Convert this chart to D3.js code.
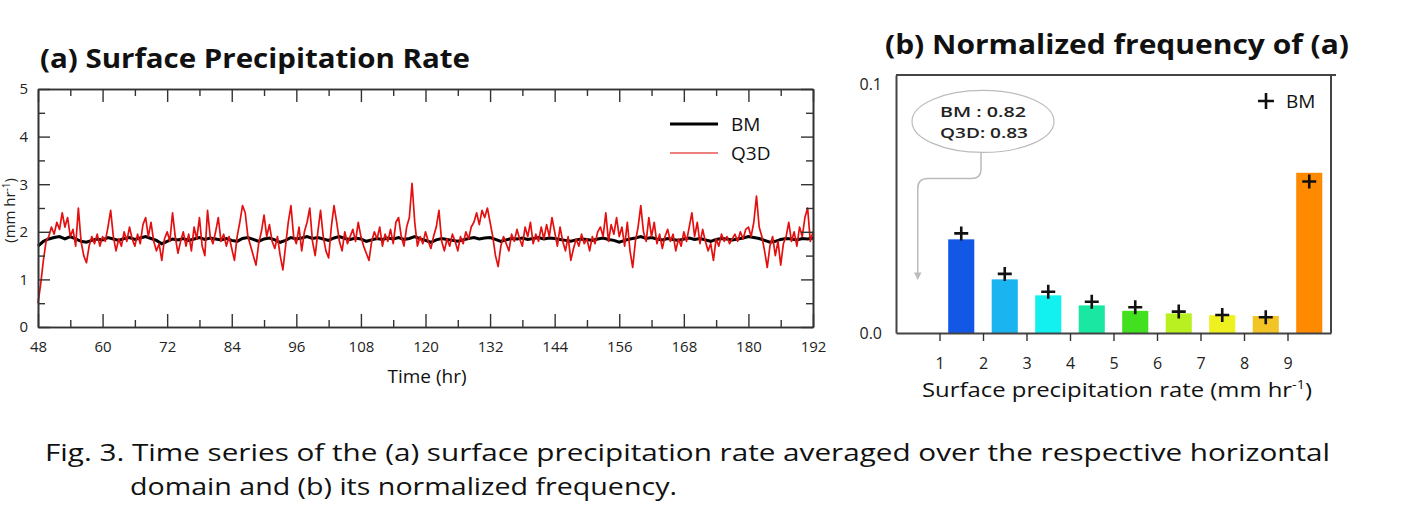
<!DOCTYPE html>
<html><head><meta charset="utf-8">
<script src="https://cdn.jsdelivr.net/npm/d3@7"></script>
<style>body{margin:0;background:#fff;} svg{display:block;}</style>
</head><body>
<svg id="c" width="1422" height="519"></svg>
<script>
// ---------------- DATA ----------------
const q3dStart = 48, q3dStep = 0.5;
const q3dValues = [
 0.5,0.9,1.4,1.8,1.9,2.1,1.95,2.2,2.05,2.4,2.1,2.3,1.9,2.05,1.7,2.5,1.8,1.5,1.35,1.7,1.9,1.75,1.95,1.7,
 1.9,1.8,2.1,2.45,1.9,1.6,1.85,1.7,2.0,1.8,2.1,1.85,1.7,1.95,1.75,2.15,2.3,1.9,2.2,1.8,1.6,1.75,1.4,1.85,
 2.0,1.8,2.4,1.9,1.55,1.8,2.0,1.7,1.95,1.6,2.1,1.85,2.3,1.7,1.5,2.45,1.9,1.75,2.0,2.3,1.8,1.95,1.7,1.9,
 1.65,1.4,1.9,2.2,2.55,2.4,1.9,1.7,1.5,1.3,1.75,2.0,2.35,1.9,2.15,1.8,1.65,1.9,1.5,1.2,1.7,2.2,2.55,1.9,
 1.75,2.1,1.6,2.0,2.2,2.5,1.8,1.5,2.0,2.45,1.9,1.6,1.45,2.1,2.55,2.2,1.8,1.6,2.0,1.75,1.9,2.05,1.8,2.2,
 1.9,1.7,1.55,1.4,1.8,2.0,1.85,2.1,1.7,1.95,1.8,2.05,1.75,2.2,2.3,1.9,1.7,2.1,2.3,3.02,2.2,1.7,1.9,1.75,
 2.0,1.8,1.65,1.9,2.1,2.45,1.8,1.6,1.85,1.7,1.95,1.8,1.6,1.9,1.75,2.0,1.85,2.1,2.2,2.4,2.15,2.45,2.3,2.5,
 2.2,1.9,1.5,1.27,1.7,1.9,1.75,1.6,1.95,1.8,2.05,1.85,1.7,2.1,1.9,2.2,1.75,1.95,1.8,2.1,1.85,2.15,1.9,2.3,
 2.0,1.7,2.1,1.8,1.6,1.9,1.4,1.65,1.85,1.7,1.95,1.75,1.85,1.6,1.9,1.75,2.0,2.1,1.9,2.4,1.8,2.15,1.95,2.3,
 1.9,2.1,1.7,2.2,1.6,1.25,1.8,2.1,2.55,2.0,1.8,2.3,1.9,2.2,1.75,1.95,1.65,1.9,2.05,1.8,1.95,1.6,1.85,1.7,
 2.0,1.8,2.1,2.4,1.9,2.2,1.75,2.05,1.8,1.6,1.75,1.4,1.85,1.7,1.95,1.8,1.9,1.75,1.85,1.95,1.8,2.0,1.85,2.05,
 2.1,1.9,2.2,2.75,2.1,1.9,1.6,1.25,1.7,1.9,1.5,1.8,1.3,1.75,1.9,2.2,1.8,2.0,1.7,2.1,1.9,2.3,2.5,1.8,2.0
];
const bmStart = 48, bmStep = 1;
const bmValues = [
 1.7,1.8,1.85,1.88,1.9,1.85,1.9,1.85,1.8,1.78,1.82,1.85,
 1.83,1.88,1.85,1.82,1.86,1.88,1.84,1.87,1.9,1.86,1.82,1.75,
 1.8,1.85,1.83,1.86,1.82,1.85,1.88,1.84,1.87,1.85,1.83,1.86,
 1.82,1.8,1.86,1.88,1.84,1.8,1.85,1.87,1.83,1.78,1.82,1.88,
 1.85,1.87,1.9,1.86,1.88,1.85,1.82,1.87,1.9,1.86,1.84,1.87,
 1.85,1.8,1.83,1.86,1.84,1.87,1.85,1.88,1.84,1.86,1.9,1.85,
 1.82,1.78,1.83,1.86,1.84,1.82,1.8,1.83,1.86,1.88,1.85,1.87,
 1.88,1.84,1.8,1.83,1.86,1.85,1.87,1.84,1.86,1.88,1.85,1.87,
 1.86,1.84,1.82,1.8,1.83,1.85,1.84,1.82,1.85,1.87,1.84,1.82,
 1.78,1.82,1.85,1.87,1.9,1.86,1.88,1.85,1.83,1.86,1.84,1.82,
 1.85,1.87,1.84,1.86,1.83,1.8,1.84,1.86,1.85,1.83,1.85,1.87,
 1.9,1.88,1.86,1.82,1.78,1.8,1.84,1.86,1.85,1.83,1.86,1.85,1.87
];
const xTicksA = [48,60,72,84,96,108,120,132,144,156,168,180,192];
const yTicksA = [0,1,2,3,4,5];

const binStarts = [1,2,3,4,5,6,7,8,9];
const q3dFreq = [0.0363,0.0208,0.0146,0.0107,0.0086,0.0076,0.0069,0.0066,0.0621];
const bmFreq  = [0.0386,0.0229,0.0160,0.0121,0.0100,0.0083,0.0070,0.0061,0.0587];
const binColors = ["#1257e6","#1ab4f0","#12f0f0","#1ae8a2","#42e01e","#b8f022","#eef020","#f2c426","#ff8a00"];
const xTicksB = [1,2,3,4,5,6,7,8,9];
const yTicksB = [0,0.1];
const firstBin = {x: 0.5, bm: 0.82, q3d: 0.83};

// ---------------- DRAW ----------------
const svg = d3.select("#c");
const FONT = "'Open Sans', 'DejaVu Sans', sans-serif";

// ===== Panel (a) =====
const xA = d3.scaleLinear().domain([48,192]).range([38,813]);
const yA = d3.scaleLinear().domain([0,5]).range([327,89]);
const gA = svg.append("g");

svg.append("text").attr("x",40).attr("y",68).attr("font-family",FONT).attr("font-weight","bold")
  .attr("font-size",26).attr("textLength",430).attr("lengthAdjust","spacingAndGlyphs")
  .attr("fill","#111").text("(a) Surface Precipitation Rate");

const q3dData = q3dValues.map((v,i)=>({t:q3dStart+i*q3dStep, v}));
const bmData = bmValues.map((v,i)=>({t:bmStart+i*bmStep, v}));
const lineA = d3.line().x(d=>xA(d.t)).y(d=>yA(d.v));

gA.append("path").datum(bmData).attr("d",lineA).attr("fill","none").attr("stroke","#000").attr("stroke-width",3);
gA.append("path").datum(q3dData).attr("d",lineA).attr("fill","none").attr("stroke","#e41010").attr("stroke-width",1.7).attr("stroke-linejoin","round");

function styleAxis(g){ g.selectAll(".domain").attr("stroke","#333").attr("stroke-width",1.6);
  g.selectAll(".tick line").attr("stroke","#333").attr("stroke-width",1.4);
  g.selectAll("text").attr("font-family",FONT).attr("fill","#222"); }

const xMinorA = d3.range(54,192,12);
const yMinorA = d3.range(0.5,5,1);
let g = gA.append("g").attr("transform",`translate(0,${yA(0)})`)
  .call(d3.axisBottom(xA).tickValues(xTicksA).tickSizeInner(-13).tickSizeOuter(0).tickPadding(14).tickFormat(d3.format("d")));
g.selectAll("text").attr("font-size",15); styleAxis(g);
g = gA.append("g").attr("transform",`translate(0,${yA(0)})`)
  .call(d3.axisBottom(xA).tickValues(xMinorA).tickSizeInner(-7).tickSizeOuter(0).tickFormat(""));
styleAxis(g);
g = gA.append("g").attr("transform",`translate(0,${yA(5)})`)
  .call(d3.axisTop(xA).tickValues(xTicksA).tickSizeInner(-13).tickSizeOuter(0).tickFormat(""));
styleAxis(g);
g = gA.append("g").attr("transform",`translate(0,${yA(5)})`)
  .call(d3.axisTop(xA).tickValues(xMinorA).tickSizeInner(-7).tickSizeOuter(0).tickFormat(""));
styleAxis(g);
g = gA.append("g").attr("transform",`translate(${xA(48)},0)`)
  .call(d3.axisLeft(yA).tickValues(yTicksA).tickSizeInner(-12).tickSizeOuter(0).tickPadding(10).tickFormat(d3.format("d")));
g.selectAll("text").attr("font-size",15); styleAxis(g);
g = gA.append("g").attr("transform",`translate(${xA(48)},0)`)
  .call(d3.axisLeft(yA).tickValues(yMinorA).tickSizeInner(-7).tickSizeOuter(0).tickFormat(""));
styleAxis(g);
g = gA.append("g").attr("transform",`translate(${xA(192)},0)`)
  .call(d3.axisRight(yA).tickValues(yTicksA).tickSizeInner(-12).tickSizeOuter(0).tickFormat(""));
styleAxis(g);
g = gA.append("g").attr("transform",`translate(${xA(192)},0)`)
  .call(d3.axisRight(yA).tickValues(yMinorA).tickSizeInner(-7).tickSizeOuter(0).tickFormat(""));
styleAxis(g);

gA.append("text").attr("x",427).attr("y",383).attr("text-anchor","middle")
  .attr("font-family",FONT).attr("font-size",19).attr("fill","#111").text("Time (hr)");
const yl = gA.append("text").attr("transform",`translate(15,${yA(2.45)}) rotate(-90)`).attr("text-anchor","middle")
  .attr("font-family",FONT).attr("font-size",15).attr("fill","#222");
yl.append("tspan").text("(mm hr");
yl.append("tspan").attr("dy",-5).attr("font-size",10).text("-1");
yl.append("tspan").attr("dy",5).text(")");

const legA = [{name:"BM",color:"#000",w:3,y:124},{name:"Q3D",color:"#e85555",w:1.5,y:153}];
legA.forEach(l=>{
  gA.append("line").attr("x1",670).attr("x2",718).attr("y1",l.y).attr("y2",l.y).attr("stroke",l.color).attr("stroke-width",l.w);
  gA.append("text").attr("x",731).attr("y",l.y+7).attr("font-family",FONT).attr("font-size",19).attr("fill","#111").text(l.name);
});

// ===== Panel (b) =====
const xB = d3.scaleLinear().domain([0,10]).range([896,1331]);
const yB = d3.scaleLinear().domain([0,0.1]).range([333,75]);
const gB = svg.append("g");

svg.append("text").attr("x",885).attr("y",54).attr("font-family",FONT).attr("font-weight","bold")
  .attr("font-size",26).attr("textLength",464).attr("lengthAdjust","spacingAndGlyphs")
  .attr("fill","#111").text("(b) Normalized frequency of (a)");

const barW = 0.6;
gB.selectAll("rect.bar").data(binStarts).enter().append("rect").attr("class","bar")
  .attr("x",(d)=>xB(d+0.5-barW/2)).attr("width",xB(barW)-xB(0))
  .attr("y",(d,i)=>yB(q3dFreq[i])).attr("height",(d,i)=>yB(0)-yB(q3dFreq[i]))
  .attr("fill",(d,i)=>binColors[i]);

function drawPlus(parent, cx, cy, s){
  parent.append("path").attr("d",`M${cx-s},${cy}H${cx+s}M${cx},${cy-s}V${cy+s}`)
    .attr("stroke","#111").attr("stroke-width",2.6).attr("fill","none");
}
binStarts.forEach((d,i)=>drawPlus(gB, xB(d+0.5), yB(bmFreq[i]), 7));

gB.append("g").attr("transform",`translate(0,${yB(0)})`)
  .call(d3.axisBottom(xB).tickValues(xTicksB).tickSizeInner(8).tickSizeOuter(0).tickPadding(17).tickFormat(d3.format("d")))
  .call(g=>{g.selectAll("text").attr("font-size",16); styleAxis(g); g.select(".domain").attr("stroke","#444").attr("stroke-width",2);});
gB.append("g").attr("transform",`translate(${xB(0)},0)`)
  .call(d3.axisLeft(yB).tickValues(yTicksB).tickSize(0).tickPadding(14).tickFormat(d3.format(".1f")))
  .call(g=>{g.selectAll("text").attr("font-size",16).attr("dy",(d)=>d>0?"0.9em":"0.32em"); styleAxis(g); g.select(".domain").attr("stroke","#444").attr("stroke-width",2);});
gB.append("line").attr("x1",xB(0)).attr("x2",xB(10)+5).attr("y1",yB(0.1)).attr("y2",yB(0.1)).attr("stroke","#444").attr("stroke-width",2);
gB.append("line").attr("x1",xB(10)).attr("x2",xB(10)).attr("y1",yB(0.1)).attr("y2",yB(0)).attr("stroke","#444").attr("stroke-width",2);

gB.append("text").attr("x",922).attr("y",397)
  .attr("font-family",FONT).attr("font-size",20).attr("fill","#111")
  .attr("textLength",390).attr("lengthAdjust","spacingAndGlyphs")
  .call(t=>{t.append("tspan").text("Surface precipitation rate (mm hr"); t.append("tspan").attr("dy",-8).attr("font-size",12).text("-1"); t.append("tspan").attr("dy",8).text(")");});

drawPlus(gB, 1266, 101, 8);
gB.append("text").attr("x",1286).attr("y",108).attr("font-family",FONT).attr("font-size",19).attr("fill","#111").text("BM");

const ex = xB(2.0), ey = yB(0.082);
gB.append("ellipse").attr("cx",ex).attr("cy",ey).attr("rx",71).attr("ry",31).attr("fill","none").attr("stroke","#bbb").attr("stroke-width",1.2);
gB.append("text").attr("x",ex-43).attr("y",ey-4).attr("font-family",FONT).attr("font-size",14).attr("font-weight",600)
  .attr("textLength",86).attr("lengthAdjust","spacingAndGlyphs").attr("fill","#222").text(`BM   : ${firstBin.bm.toFixed(2)}`);
gB.append("text").attr("x",ex-43).attr("y",ey+17).attr("font-family",FONT).attr("font-size",14).attr("font-weight",600)
  .attr("textLength",88).attr("lengthAdjust","spacingAndGlyphs").attr("fill","#222").text(`Q3D: ${firstBin.q3d.toFixed(2)}`);
const ax = xB(firstBin.x);
svg.append("defs").append("marker").attr("id","ah").attr("viewBox","0 0 10 10").attr("refX",5).attr("refY",5)
  .attr("markerWidth",5).attr("markerHeight",5).attr("orient","auto")
  .append("path").attr("d","M0,0L10,5L0,10z").attr("fill","#bbb");
gB.append("path").attr("d",`M${ex-2},${ey+31}V${ey+48}Q${ex-2},${ey+57} ${ex-12},${ey+57}H${ax+10}Q${ax},${ey+57} ${ax},${ey+67}V${yB(0.022)}`)
  .attr("fill","none").attr("stroke","#bbb").attr("stroke-width",1.5).attr("marker-end","url(#ah)");

// ===== Caption =====
svg.append("text").attr("x",45).attr("y",461).attr("font-family",FONT).attr("font-size",24)
  .attr("textLength",1285).attr("lengthAdjust","spacingAndGlyphs").attr("fill","#111")
  .text("Fig. 3. Time series of the (a) surface precipitation rate averaged over the respective horizontal");
svg.append("text").attr("x",130).attr("y",495).attr("font-family",FONT).attr("font-size",24)
  .attr("textLength",547).attr("lengthAdjust","spacingAndGlyphs").attr("fill","#111")
  .text("domain and (b) its normalized frequency.");
</script>
</body></html>
